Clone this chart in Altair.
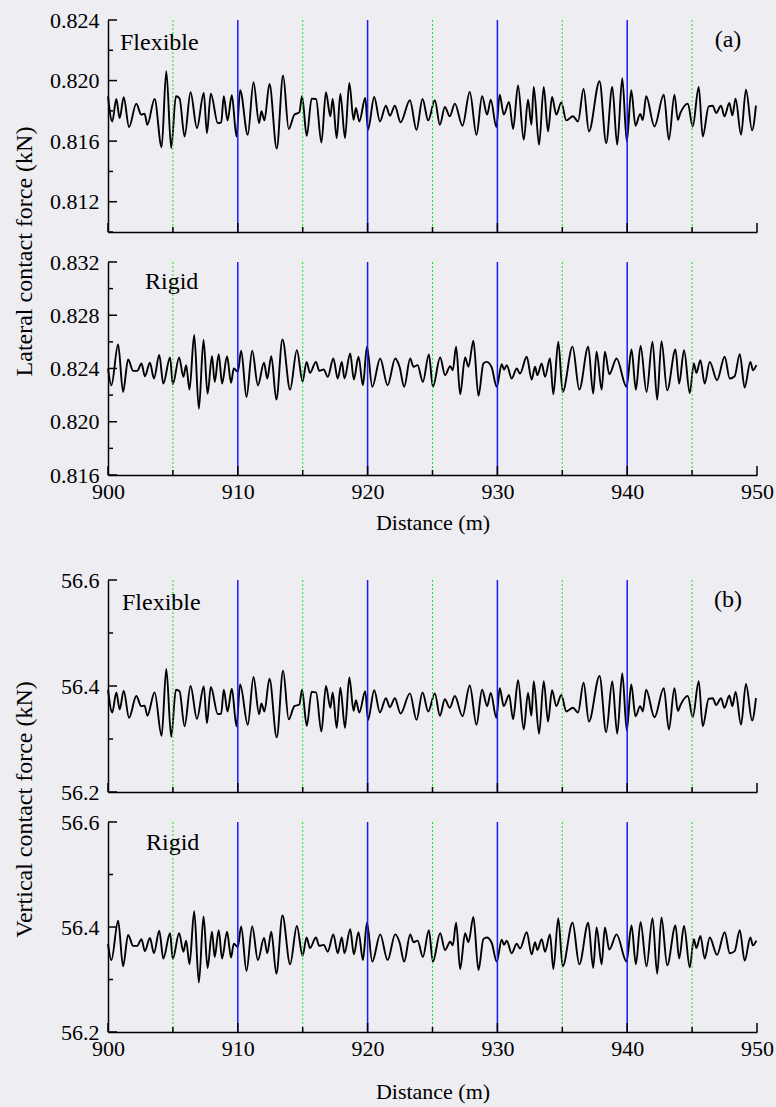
import altair as alt
import pandas as pd

FONT = "'Liberation Serif', 'Times New Roman', Times, serif"

# ---- data: (distance m, force kN) ----
lateral_flexible = [
    (900.00, 0.81896), (900.33, 0.81730), (900.64, 0.81878), (900.90, 0.81752), (901.21, 0.81890),
    (901.62, 0.81693), (902.18, 0.81848), (902.56, 0.81775), (902.82, 0.81781), (903.03, 0.81708),
    (903.59, 0.81878), (904.13, 0.81560), (904.49, 0.82062), (904.87, 0.81554), (905.23, 0.81896),
    (905.51, 0.81883), (905.90, 0.81631), (906.36, 0.81923), (906.85, 0.81686), (907.38, 0.81918),
    (907.62, 0.81653), (907.92, 0.81914), (908.46, 0.81719), (908.72, 0.81724), (908.92, 0.81896),
    (909.21, 0.81737), (909.54, 0.81903), (909.90, 0.81631), (910.18, 0.81936), (910.77, 0.81642),
    (911.21, 0.81989), (911.64, 0.81719), (911.82, 0.81797), (912.05, 0.81737), (912.44, 0.81978),
    (913.00, 0.81551), (913.49, 0.82033), (913.92, 0.81680), (914.36, 0.81775), (914.74, 0.81790),
    (914.95, 0.81896), (915.31, 0.81635), (915.69, 0.81881), (916.03, 0.81878), (916.44, 0.81591),
    (916.79, 0.81923), (917.13, 0.81764), (917.31, 0.81878), (917.62, 0.81620), (917.90, 0.81912),
    (918.26, 0.81620), (918.59, 0.81985), (918.92, 0.81741), (919.10, 0.81819), (919.36, 0.81730),
    (919.82, 0.81885), (920.03, 0.81675), (920.51, 0.81892), (920.95, 0.81730), (921.41, 0.81834),
    (921.72, 0.81768), (922.10, 0.81834), (922.54, 0.81724), (923.26, 0.81870), (923.77, 0.81675),
    (924.23, 0.81878), (924.67, 0.81737), (925.18, 0.81870), (925.57, 0.81708), (925.95, 0.81825),
    (926.33, 0.81764), (926.72, 0.81848), (927.31, 0.81702), (927.87, 0.81925), (928.39, 0.81642),
    (928.82, 0.81896), (929.21, 0.81775), (929.49, 0.81874), (929.92, 0.81693), (930.18, 0.81907),
    (930.49, 0.81775), (930.90, 0.81859), (931.21, 0.81680), (931.59, 0.81967), (932.03, 0.81609),
    (932.36, 0.81874), (932.62, 0.81708), (932.80, 0.81958), (933.21, 0.81576), (933.57, 0.81958),
    (933.90, 0.81664), (934.21, 0.81892), (934.54, 0.81775), (934.92, 0.81856), (935.31, 0.81737),
    (935.82, 0.81764), (936.21, 0.81730), (936.64, 0.81945), (937.05, 0.81664), (937.87, 0.81996),
    (938.38, 0.81587), (938.85, 0.81958), (939.23, 0.81576), (939.62, 0.82015), (939.97, 0.81598),
    (940.31, 0.81936), (940.64, 0.81702), (941.00, 0.81780), (941.20, 0.81740), (941.46, 0.81896),
    (942.10, 0.81697), (942.82, 0.81907), (943.21, 0.81609), (943.64, 0.81907), (943.90, 0.81741),
    (944.10, 0.81786), (944.67, 0.81848), (945.05, 0.81697), (945.51, 0.81958), (945.82, 0.81631),
    (946.28, 0.81830), (946.59, 0.81834), (946.85, 0.81786), (947.23, 0.81834), (947.49, 0.81764),
    (947.87, 0.81852), (948.10, 0.81770), (948.35, 0.81880), (948.77, 0.81642), (949.15, 0.81940),
    (949.62, 0.81671), (949.92, 0.81834),
]

lateral_rigid = [
    (900.00, 0.82400), (900.26, 0.82274), (900.78, 0.82581), (901.16, 0.82224), (901.55, 0.82468),
    (901.94, 0.82382), (902.25, 0.82382), (902.58, 0.82438), (902.84, 0.82342), (903.23, 0.82443),
    (903.54, 0.82325), (903.95, 0.82501), (904.26, 0.82287), (904.78, 0.82483), (904.99, 0.82282),
    (905.48, 0.82483), (905.81, 0.82337), (906.02, 0.82425), (906.28, 0.82241), (906.64, 0.82652),
    (907.00, 0.82098), (907.36, 0.82614), (907.67, 0.82211), (908.01, 0.82493), (908.22, 0.82299),
    (908.53, 0.82508), (908.79, 0.82287), (909.17, 0.82493), (909.48, 0.82292), (909.69, 0.82400),
    (910.00, 0.82375), (910.26, 0.82533), (910.67, 0.82186), (911.11, 0.82533), (911.55, 0.82274),
    (912.02, 0.82443), (912.27, 0.82325), (912.58, 0.82493), (912.97, 0.82166), (913.44, 0.82619),
    (914.03, 0.82241), (914.55, 0.82538), (914.99, 0.82304), (915.30, 0.82450), (915.56, 0.82367),
    (916.02, 0.82450), (916.28, 0.82382), (916.62, 0.82392), (916.93, 0.82337), (917.36, 0.82475),
    (917.70, 0.82325), (918.01, 0.82450), (918.22, 0.82325), (918.66, 0.82513), (918.94, 0.82317),
    (919.30, 0.82488), (919.64, 0.82274), (919.95, 0.82564), (920.36, 0.82262), (920.97, 0.82475),
    (921.54, 0.82274), (922.13, 0.82475), (922.46, 0.82413), (922.82, 0.82262), (923.28, 0.82475),
    (923.54, 0.82413), (923.85, 0.82425), (924.26, 0.82299), (924.72, 0.82506), (925.03, 0.82262),
    (925.59, 0.82483), (925.97, 0.82350), (926.36, 0.82418), (926.56, 0.82387), (926.82, 0.82564),
    (927.13, 0.82206), (927.51, 0.82483), (927.77, 0.82413), (928.15, 0.82609), (928.54, 0.82194),
    (928.92, 0.82438), (929.18, 0.82450), (929.56, 0.82408), (929.95, 0.82262), (930.33, 0.82433),
    (930.51, 0.82392), (930.72, 0.82425), (931.10, 0.82325), (931.49, 0.82400), (931.74, 0.82362),
    (932.26, 0.82488), (932.64, 0.82317), (932.90, 0.82413), (933.08, 0.82350), (933.41, 0.82438),
    (933.67, 0.82337), (934.05, 0.82475), (934.31, 0.82206), (934.69, 0.82601), (935.03, 0.82224),
    (935.79, 0.82564), (936.31, 0.82241), (937.00, 0.82564), (937.38, 0.82211), (937.64, 0.82526),
    (938.03, 0.82241), (938.28, 0.82526), (938.62, 0.82357), (939.18, 0.82475), (939.95, 0.82262),
    (940.33, 0.82543), (940.67, 0.82241), (941.03, 0.82569), (941.49, 0.82224), (941.95, 0.82601),
    (942.31, 0.82166), (942.64, 0.82606), (943.08, 0.82236), (943.72, 0.82543), (944.00, 0.82287),
    (944.38, 0.82538), (944.82, 0.82216), (945.13, 0.82438), (945.33, 0.82367), (945.64, 0.82463),
    (945.97, 0.82287), (946.36, 0.82450), (946.92, 0.82312), (947.51, 0.82488), (947.90, 0.82325),
    (948.28, 0.82342), (948.67, 0.82508), (949.05, 0.82257), (949.49, 0.82450), (949.69, 0.82387),
    (949.95, 0.82425),
]

vertical_flexible = [
    (900.00, 56.393), (900.33, 56.350), (900.64, 56.388), (900.90, 56.356), (901.21, 56.391),
    (901.62, 56.340), (902.18, 56.381), (902.56, 56.362), (902.82, 56.363), (903.03, 56.344),
    (903.59, 56.388), (904.13, 56.306), (904.49, 56.432), (904.87, 56.304), (905.23, 56.393),
    (905.51, 56.390), (905.90, 56.324), (906.36, 56.400), (906.85, 56.338), (907.38, 56.399),
    (907.62, 56.330), (907.92, 56.398), (908.46, 56.347), (908.72, 56.348), (908.92, 56.393),
    (909.21, 56.352), (909.54, 56.395), (909.90, 56.324), (910.18, 56.403), (910.77, 56.327),
    (911.21, 56.417), (911.64, 56.347), (911.82, 56.367), (912.05, 56.352), (912.44, 56.414),
    (913.00, 56.303), (913.49, 56.429), (913.92, 56.337), (914.36, 56.362), (914.74, 56.365),
    (914.95, 56.393), (915.31, 56.325), (915.69, 56.389), (916.03, 56.388), (916.44, 56.314),
    (916.79, 56.400), (917.13, 56.359), (917.31, 56.388), (917.62, 56.321), (917.90, 56.397),
    (918.26, 56.321), (918.59, 56.416), (918.92, 56.353), (919.10, 56.373), (919.36, 56.350),
    (919.82, 56.390), (920.03, 56.336), (920.51, 56.392), (920.95, 56.350), (921.41, 56.377),
    (921.72, 56.360), (922.10, 56.377), (922.54, 56.348), (923.26, 56.386), (923.77, 56.336),
    (924.23, 56.388), (924.67, 56.352), (925.18, 56.386), (925.57, 56.344), (925.95, 56.375),
    (926.33, 56.359), (926.72, 56.381), (927.31, 56.343), (927.87, 56.401), (928.39, 56.327),
    (928.82, 56.393), (929.21, 56.362), (929.49, 56.387), (929.92, 56.340), (930.18, 56.396),
    (930.49, 56.362), (930.90, 56.383), (931.21, 56.337), (931.59, 56.411), (932.03, 56.318),
    (932.36, 56.387), (932.62, 56.344), (932.80, 56.409), (933.21, 56.310), (933.57, 56.409),
    (933.90, 56.333), (934.21, 56.392), (934.54, 56.362), (934.92, 56.383), (935.31, 56.352),
    (935.82, 56.359), (936.21, 56.350), (936.64, 56.406), (937.05, 56.333), (937.87, 56.419),
    (938.38, 56.313), (938.85, 56.409), (939.23, 56.310), (939.62, 56.424), (939.97, 56.316),
    (940.31, 56.403), (940.64, 56.343), (941.00, 56.362), (941.20, 56.352), (941.46, 56.393),
    (942.10, 56.341), (942.82, 56.396), (943.21, 56.318), (943.64, 56.396), (943.90, 56.353),
    (944.10, 56.364), (944.67, 56.381), (945.05, 56.341), (945.51, 56.409), (945.82, 56.324),
    (946.28, 56.376), (946.59, 56.377), (946.85, 56.364), (947.23, 56.377), (947.49, 56.359),
    (947.87, 56.382), (948.10, 56.362), (948.35, 56.389), (948.77, 56.327), (949.15, 56.404),
    (949.62, 56.335), (949.92, 56.377),
]

vertical_rigid = [
    (900.00, 56.368), (900.26, 56.337), (900.78, 56.412), (901.16, 56.325), (901.55, 56.385),
    (901.94, 56.364), (902.25, 56.364), (902.58, 56.377), (902.84, 56.354), (903.23, 56.379),
    (903.54, 56.350), (903.95, 56.393), (904.26, 56.340), (904.78, 56.388), (904.99, 56.339),
    (905.48, 56.388), (905.81, 56.353), (906.02, 56.374), (906.28, 56.329), (906.64, 56.430),
    (907.00, 56.294), (907.36, 56.420), (907.67, 56.322), (908.01, 56.391), (908.22, 56.343),
    (908.53, 56.394), (908.79, 56.340), (909.17, 56.391), (909.48, 56.342), (909.69, 56.368),
    (910.00, 56.362), (910.26, 56.401), (910.67, 56.316), (911.11, 56.401), (911.55, 56.337),
    (912.02, 56.379), (912.27, 56.350), (912.58, 56.391), (912.97, 56.311), (913.44, 56.422),
    (914.03, 56.329), (914.55, 56.402), (914.99, 56.345), (915.30, 56.380), (915.56, 56.360),
    (916.02, 56.380), (916.28, 56.364), (916.62, 56.366), (916.93, 56.353), (917.36, 56.386),
    (917.70, 56.350), (918.01, 56.380), (918.22, 56.350), (918.66, 56.396), (918.94, 56.348),
    (919.30, 56.390), (919.64, 56.337), (919.95, 56.408), (920.36, 56.334), (920.97, 56.386),
    (921.54, 56.337), (922.13, 56.386), (922.46, 56.371), (922.82, 56.334), (923.28, 56.386),
    (923.54, 56.371), (923.85, 56.374), (924.26, 56.343), (924.72, 56.394), (925.03, 56.334),
    (925.59, 56.388), (925.97, 56.356), (926.36, 56.372), (926.56, 56.365), (926.82, 56.408),
    (927.13, 56.320), (927.51, 56.388), (927.77, 56.371), (928.15, 56.419), (928.54, 56.318),
    (928.92, 56.377), (929.18, 56.380), (929.56, 56.370), (929.95, 56.334), (930.33, 56.376),
    (930.51, 56.366), (930.72, 56.374), (931.10, 56.350), (931.49, 56.368), (931.74, 56.359),
    (932.26, 56.390), (932.64, 56.348), (932.90, 56.371), (933.08, 56.356), (933.41, 56.377),
    (933.67, 56.353), (934.05, 56.386), (934.31, 56.320), (934.69, 56.417), (935.03, 56.325),
    (935.79, 56.408), (936.31, 56.329), (937.00, 56.408), (937.38, 56.322), (937.64, 56.399),
    (938.03, 56.329), (938.28, 56.399), (938.62, 56.357), (939.18, 56.386), (939.95, 56.334),
    (940.33, 56.403), (940.67, 56.329), (941.03, 56.409), (941.49, 56.325), (941.95, 56.417),
    (942.31, 56.311), (942.64, 56.418), (943.08, 56.327), (943.72, 56.403), (944.00, 56.340),
    (944.38, 56.402), (944.82, 56.323), (945.13, 56.377), (945.33, 56.360), (945.64, 56.383),
    (945.97, 56.340), (946.36, 56.380), (946.92, 56.347), (947.51, 56.390), (947.90, 56.350),
    (948.28, 56.354), (948.67, 56.394), (949.05, 56.336), (949.49, 56.380), (949.69, 56.365),
    (949.95, 56.374),
]

green_marks = [905, 915, 925, 935, 945]
blue_marks = [910, 920, 930, 940]
x_major_ticks = [900, 910, 920, 930, 940, 950]
x_minor_ticks = [905, 915, 925, 935, 945]

lat_flex_major = [0.812, 0.816, 0.820, 0.824]
lat_flex_minor = [0.810, 0.814, 0.818, 0.822]
lat_rigid_major = [0.816, 0.820, 0.824, 0.828, 0.832]
lat_rigid_minor = [0.818, 0.822, 0.826, 0.830]
vert_major = [56.2, 56.4, 56.6]
vert_minor = [56.3, 56.5]

W = 649
XS = alt.Scale(domain=[900, 950], nice=False, zero=False)
BG = "#ededf2"


def panel(series, ydom, ymajor, yminor, fmt, height, label, lx, ly,
          x_labels=False, xtitle_pad=10, ytitle=None, ytitle_y=0,
          corner=None, frame_top=None, frame_bottom=None):
    ys = alt.Scale(domain=ydom, nice=False, zero=False)
    df = pd.DataFrame(series, columns=["d", "f"])
    if x_labels:
        xaxis = alt.Axis(values=x_major_ticks, format="d", ticks=False, grid=False,
                         labelFont=FONT, labelFontSize=22, labelColor="black",
                         labelPadding=6, labelFlush=False, labelOverlap=False,
                         title="Distance (m)", titleFont=FONT, titleFontSize=22,
                         titleFontWeight="normal", titleColor="black",
                         titlePadding=xtitle_pad,
                         domainColor="black", domainWidth=1.5)
    else:
        xaxis = alt.Axis(labels=False, ticks=False, grid=False, title=None,
                         domainColor="black", domainWidth=1.5)
    yaxis_kw = dict(values=ymajor, format=fmt, ticks=False, grid=False,
                    labelFont=FONT, labelFontSize=22, labelColor="black",
                    labelPadding=9, labelFlush=False, labelOverlap=False,
                    domainColor="black", domainWidth=1.5)
    if ytitle:
        yaxis = alt.Axis(title=ytitle, titleFont=FONT, titleFontSize=24,
                         titleFontWeight="normal", titleColor="black",
                         titleAngle=270, titleX=-84, titleY=ytitle_y,
                         titleAlign="center", titleBaseline="middle", **yaxis_kw)
    else:
        yaxis = alt.Axis(title=None, **yaxis_kw)

    line = alt.Chart(df).mark_line(
        color="black", strokeWidth=1.9, interpolate="monotone"
    ).encode(x=alt.X("d:Q", scale=XS, axis=xaxis),
             y=alt.Y("f:Q", scale=ys, axis=yaxis))
    green = alt.Chart(pd.DataFrame({"d": green_marks})).mark_rule(
        color="#14e614", strokeWidth=1, strokeDash=[2, 2]
    ).encode(x=alt.X("d:Q", scale=XS))
    blue = alt.Chart(pd.DataFrame({"d": blue_marks})).mark_rule(
        color="#1a1aff", strokeWidth=1.5
    ).encode(x=alt.X("d:Q", scale=XS))
    xt_major = alt.Chart(pd.DataFrame({"d": x_major_ticks})).mark_rule(
        color="black", strokeWidth=1.5
    ).encode(x=alt.X("d:Q", scale=XS),
             y=alt.value(height), y2=alt.value(height - 9))
    xt_minor = alt.Chart(pd.DataFrame({"d": x_minor_ticks})).mark_rule(
        color="black", strokeWidth=1.5
    ).encode(x=alt.X("d:Q", scale=XS),
             y=alt.value(height), y2=alt.value(height - 5))
    yt_major = alt.Chart(pd.DataFrame({"f": ymajor})).mark_rule(
        color="black", strokeWidth=1.5
    ).encode(y=alt.Y("f:Q", scale=ys),
             x=alt.value(0), x2=alt.value(9))
    yt_minor = alt.Chart(pd.DataFrame({"f": yminor})).mark_rule(
        color="black", strokeWidth=1.5
    ).encode(y=alt.Y("f:Q", scale=ys),
             x=alt.value(0), x2=alt.value(5))
    txt = alt.Chart(pd.DataFrame({"t": [label]})).mark_text(
        align="left", baseline="middle", font=FONT, fontSize=24, color="black"
    ).encode(text="t:N", x=alt.value(lx), y=alt.value(ly))
    layers = [line, green, blue, xt_major, xt_minor, yt_major, yt_minor, txt]
    if corner:
        layers.append(alt.Chart(pd.DataFrame({"t": [corner]})).mark_text(
            align="center", baseline="middle", font=FONT, fontSize=24, color="black"
        ).encode(text="t:N", x=alt.value(620), y=alt.value(20)))
    # invisible extent markers so the page is exactly 776 x 1107
    if frame_top is not None:
        layers.append(alt.Chart(pd.DataFrame({"t": [0]})).mark_rule(
            color=BG, strokeWidth=0.5, opacity=0
        ).encode(x=alt.value(-108), x2=alt.value(W + 19), y=alt.value(frame_top)))
    if frame_bottom is not None:
        layers.append(alt.Chart(pd.DataFrame({"t": [0]})).mark_rule(
            color=BG, strokeWidth=0.5, opacity=0
        ).encode(x=alt.value(-108), x2=alt.value(W + 19), y=alt.value(frame_bottom)))
    return alt.layer(*layers).properties(width=W, height=height)


p1 = panel(lateral_flexible, [0.810, 0.824], lat_flex_major, lat_flex_minor, ".3f",
           212, "Flexible", 12, 23, ytitle="Lateral contact force (kN)",
           ytitle_y=231, corner="(a)", frame_top=-20)
p2 = panel(lateral_rigid, [0.816, 0.832], lat_rigid_major, lat_rigid_minor, ".3f",
           213, "Rigid", 37, 20, x_labels=True, xtitle_pad=10)
spacer = alt.Chart(pd.DataFrame({"a": [0]})).mark_point(opacity=0).encode(
    x=alt.value(0), y=alt.value(0)).properties(width=W, height=45)
p3 = panel(vertical_flexible, [56.2, 56.6], vert_major, vert_minor, ".1f",
           212, "Flexible", 14, 23, ytitle="Vertical contact force (kN)",
           ytitle_y=229, corner="(b)")
p4 = panel(vertical_rigid, [56.2, 56.6], vert_major, vert_minor, ".1f",
           210, "Rigid", 38, 21, x_labels=True, xtitle_pad=22, frame_bottom=285)

chart = alt.vconcat(p1, p2, spacer, p3, p4, spacing=30, bounds="flush").properties(
    padding=0,
    background=BG,
).configure_view(stroke=None)

chart.save("out.html", embed_options={"renderer": "svg", "actions": False})
